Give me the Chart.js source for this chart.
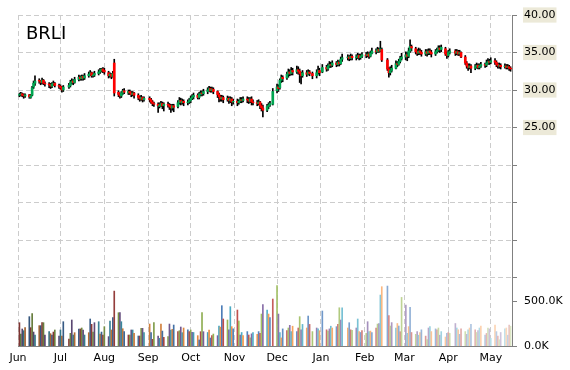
<!DOCTYPE html>
<html><head><meta charset="utf-8">
<script src="https://cdn.jsdelivr.net/npm/chart.js@4.4.1/dist/chart.umd.min.js"></script>
<style>html,body{margin:0;padding:0;background:#fff;}#wrap{width:570px;height:370px;}</style>
</head><body><div id="wrap"><canvas id="c" width="570" height="370"></canvas></div>
<script>
const TICKER = 'BRLI';
// trading calendar (categories)
const firstDay = '2014-06-01';
const startDate = '2014-06-02';
const endDate = '2015-05-15';
const holidays = ['2014-07-04','2014-09-01','2014-11-27','2014-12-25','2015-01-01','2015-01-19','2015-02-16','2015-04-03'];
const monthStarts = ['2014-06-01','2014-07-01','2014-08-01','2014-09-01','2014-10-01','2014-11-01','2014-12-01','2015-01-01','2015-02-01','2015-03-01','2015-04-01','2015-05-01'];
const monthLabels = ['Jun','Jul','Aug','Sep','Oct','Nov','Dec','Jan','Feb','Mar','Apr','May'];
const priceTicks = [40,35,30,25,20,15,10,5];
const priceLabelMin = 25;
const volumeTickK = [500,0];

const open = [
29.30,29.40,29.50,29.30,29.20,29.35,29.00,29.30,30.40,30.90,31.30,31.20,31.00,31.30,30.90,30.80,30.70,30.50,30.80,30.90,30.60,
30.50,30.30,30.00,30.40,30.60,31.00,31.20,31.00,31.40,31.70,31.50,31.80,31.60,31.90,32.10,32.30,31.90,32.00,32.20,32.40,32.60,32.80,
32.60,32.30,31.90,32.10,31.80,33.60,29.70,29.40,29.20,29.60,29.90,29.60,29.80,29.60,29.40,29.60,29.30,29.00,28.80,29.00,28.70,
28.90,28.70,28.40,28.20,28.10,27.80,28.00,28.20,27.90,28.10,28.00,27.90,27.60,27.90,27.80,28.30,28.60,28.30,28.50,28.30,28.40,
28.60,28.90,29.10,29.30,29.00,29.40,29.60,29.50,29.80,30.00,30.20,29.90,30.10,29.80,29.40,29.10,28.80,29.00,28.70,28.90,28.60,28.80,28.40,
28.50,28.30,28.50,28.70,28.60,28.80,28.70,28.50,28.80,28.40,28.30,28.20,28.40,27.90,27.60,27.30,27.80,28.00,28.10,
29.90,30.40,30.30,31.30,31.70,31.60,32.10,32.40,32.20,32.60,32.40,32.70,32.50,32.20,31.90,32.30,32.10,32.40,32.20,31.90,32.30,32.60,
32.40,33.00,32.80,33.20,33.40,33.30,33.60,33.40,33.70,33.50,34.10,34.30,34.40,34.20,34.50,34.30,34.40,34.60,34.30,34.50,
34.70,34.60,34.80,34.50,34.90,35.20,35.10,35.40,35.20,35.40,34.00,32.80,32.30,32.60,32.90,33.50,33.40,33.80,34.20,
34.40,34.70,34.50,35.20,35.80,35.50,35.10,34.90,35.20,35.00,34.80,35.10,34.90,35.20,35.00,34.80,35.10,35.30,35.60,35.40,35.50,34.80,
34.60,35.00,35.20,34.90,35.10,34.80,35.00,34.40,33.60,33.20,33.00,33.20,32.90,33.10,33.30,33.00,33.20,33.40,33.30,33.60,33.80,
33.70,33.90,33.70,33.40,33.20,33.30,33.10,33.20,33.00,33.10,32.90];
const high = [
29.60,29.70,29.60,29.50,29.50,29.40,29.40,30.50,31.20,31.90,31.50,31.30,31.60,31.40,31.10,31.00,30.90,31.00,31.20,31.00,30.80,
30.70,30.50,30.60,30.90,31.30,31.50,31.40,31.70,32.00,31.90,32.00,32.00,32.20,32.40,32.60,32.40,32.30,32.50,32.70,32.90,32.90,33.00,
32.90,32.50,32.30,32.20,32.50,34.10,29.90,29.60,29.80,30.10,30.20,30.00,30.00,29.80,29.80,29.70,29.50,29.20,29.30,29.10,29.10,
29.10,28.90,28.60,28.40,28.30,28.30,28.50,28.40,28.30,28.40,28.20,28.10,28.10,28.10,28.60,29.00,28.90,28.80,28.70,28.70,28.90,
29.20,29.40,29.60,29.50,29.70,29.90,29.90,30.10,30.30,30.50,30.40,30.40,30.30,29.90,29.60,29.30,29.30,29.20,29.20,29.10,29.10,29.00,28.80,
28.80,28.70,29.00,29.00,29.10,29.10,29.00,29.00,29.10,28.70,28.60,28.70,28.50,28.20,28.00,28.10,28.30,28.50,30.20,
30.80,30.70,31.50,32.00,31.90,32.40,32.80,32.70,33.00,32.90,33.20,33.10,32.80,32.40,32.60,32.60,32.70,32.60,32.40,32.70,33.20,32.90,
33.40,33.30,33.50,33.80,33.70,33.90,33.80,34.00,33.90,34.40,34.80,34.70,34.60,34.80,34.70,34.70,34.90,34.80,34.80,35.00,
35.00,35.10,35.00,35.20,35.60,35.50,35.70,35.60,36.50,35.60,34.20,33.00,33.10,33.30,33.90,33.80,34.10,34.50,34.90,
35.10,35.00,35.60,36.70,36.00,35.70,35.40,35.60,35.50,35.30,35.40,35.40,35.50,35.50,35.30,35.40,35.60,35.90,35.90,36.00,35.70,35.10,
35.30,35.50,35.40,35.40,35.30,35.30,35.10,34.60,33.80,33.50,33.50,33.40,33.40,33.60,33.50,33.50,33.70,33.60,34.00,34.20,34.10,
34.30,34.20,33.90,33.60,33.60,33.50,33.50,33.40,33.40,33.30,33.10];
const low = [
29.10,29.20,29.10,28.90,29.00,28.90,28.90,29.20,30.20,30.60,30.90,30.70,30.80,30.70,30.50,30.30,30.20,30.30,30.60,30.40,30.20,
30.10,29.70,29.80,30.20,30.40,30.80,30.70,30.90,31.20,31.30,31.30,31.30,31.40,31.70,31.90,31.70,31.70,31.80,32.00,32.20,32.40,32.30,
32.10,31.60,31.70,31.50,31.70,29.20,29.10,28.90,29.00,29.40,29.50,29.40,29.40,29.10,29.20,28.90,28.70,28.50,28.60,28.40,28.50,
28.40,28.20,27.90,27.80,27.00,27.60,27.80,27.50,27.20,27.70,27.40,27.00,27.30,27.10,27.60,28.10,28.00,28.10,27.90,28.00,28.20,
28.30,28.70,28.80,28.80,28.80,29.20,29.20,29.30,29.50,29.80,29.70,29.70,29.50,29.00,28.40,28.50,28.50,28.30,28.50,28.20,28.30,27.90,28.10,
27.90,28.10,28.30,28.30,28.40,28.30,28.20,28.30,28.00,28.00,27.90,28.00,27.50,27.20,26.40,27.10,27.50,27.80,28.00,
29.60,29.80,30.10,31.00,31.10,31.40,31.70,31.90,32.00,32.00,32.20,32.10,31.00,30.80,31.70,31.80,32.00,31.90,31.50,31.60,32.10,31.90,
32.30,32.50,32.60,33.00,33.00,33.10,33.10,33.20,33.20,33.40,33.80,34.00,33.90,34.00,34.00,34.00,34.20,34.00,34.10,34.30,
34.30,34.40,34.20,34.40,34.80,34.80,35.00,35.00,35.10,33.80,32.60,31.70,32.00,32.40,32.80,33.10,33.30,33.60,34.00,
34.00,33.90,34.30,35.00,35.20,34.80,34.60,34.70,34.70,34.50,34.60,34.50,34.70,34.70,34.40,34.60,34.90,35.10,35.00,35.10,34.60,34.20,
34.40,34.80,34.60,34.70,34.60,34.60,34.30,33.40,32.90,32.60,32.80,32.30,32.70,32.90,32.80,32.80,33.00,33.00,33.10,33.40,33.40,
33.50,33.40,33.10,32.90,32.90,32.80,32.90,32.80,32.80,32.60,32.50];
const close = [
29.40,29.50,29.30,29.20,29.35,29.10,29.25,30.30,30.90,31.20,31.20,31.00,31.30,30.90,30.80,30.70,30.50,30.80,30.90,30.60,30.50,
30.30,30.00,30.40,30.60,31.00,31.20,31.00,31.40,31.70,31.50,31.80,31.60,31.90,32.10,32.30,31.90,32.00,32.20,32.40,32.60,32.80,32.50,
32.40,31.90,32.10,31.80,32.20,29.60,29.40,29.20,29.60,29.90,29.70,29.80,29.60,29.40,29.60,29.30,29.00,28.80,29.00,28.70,28.90,
28.70,28.40,28.20,28.10,27.90,28.00,28.20,27.90,28.10,28.00,27.80,27.60,27.90,27.70,28.30,28.60,28.40,28.50,28.30,28.40,28.60,
28.90,29.10,29.30,29.00,29.40,29.60,29.50,29.80,30.00,30.20,29.90,30.10,29.80,29.40,29.10,28.80,29.00,28.70,28.90,28.60,28.80,28.40,28.50,
28.30,28.50,28.70,28.60,28.80,28.70,28.50,28.80,28.40,28.30,28.20,28.40,27.90,27.60,27.30,27.80,28.00,28.20,29.80,
30.40,30.20,31.30,31.70,31.50,32.10,32.40,32.20,32.60,32.40,32.70,32.50,32.20,31.90,32.30,32.10,32.40,32.20,31.90,32.30,32.60,32.30,
33.00,32.80,33.20,33.40,33.30,33.60,33.40,33.70,33.50,34.10,34.30,34.40,34.20,34.50,34.30,34.40,34.60,34.30,34.50,34.70,
34.60,34.80,34.50,34.90,35.20,35.10,35.40,35.20,35.50,34.00,32.80,32.30,32.60,32.90,33.50,33.40,33.80,34.20,34.40,
34.70,34.50,35.20,35.80,35.60,35.10,34.90,35.20,35.00,34.80,35.10,34.90,35.20,35.00,34.80,35.10,35.30,35.60,35.40,35.70,34.80,34.60,
35.00,35.20,34.90,35.10,34.80,35.00,34.40,33.60,33.20,33.00,33.20,32.90,33.10,33.30,33.00,33.20,33.40,33.30,33.60,33.80,33.70,
33.90,33.70,33.40,33.20,33.30,33.10,33.20,33.00,33.10,32.90,32.80];
// volume in thousands
const volumeK = [
259,133,189,170,204,326,204,359,155,122,226,226,259,259,122,159,137,122,155,178,111,
178,111,270,78,141,289,122,148,189,189,200,178,122,148,300,241,155,259,270,133,155,122,
215,104,278,178,315,610,370,370,270,192,160,122,122,178,178,140,111,111,196,196,150,
244,148,74,259,111,85,244,166,96,104,244,178,185,233,159,170,211,148,200,180,160,
178,152,150,115,67,159,370,159,150,178,89,115,133,115,222,210,448,300,289,180,437,215,190,
400,278,122,150,115,160,122,90,135,150,130,160,140,355,459,400,355,315,522,
670,355,150,90,190,170,200,230,160,220,160,200,326,180,240,200,333,240,160,200,190,170,
389,180,165,190,220,200,215,240,425,289,425,200,259,180,175,200,300,160,150,170,
140,270,159,166,150,200,244,250,566,659,666,337,222,260,200,250,222,159,540,
455,141,215,429,150,130,160,120,150,180,110,70,200,215,160,190,180,200,120,160,100,140,
150,140,250,200,180,130,190,160,130,180,200,240,180,150,170,200,220,120,140,200,190,
85,233,160,110,70,150,190,200,120,233,220];

// ---- build calendar ----
const DAY = 86400000;
const toUTC = s => { const [y,m,d] = s.split('-').map(Number); return Date.UTC(y, m-1, d); };
const base = toUTC(firstDay);
const hol = new Set(holidays.map(toUTC));
const tradingDays = [];
for (let t = toUTC(startDate); t <= toUTC(endDate); t += DAY) {
  const wd = new Date(t).getUTCDay();
  if (wd === 0 || wd === 6 || hol.has(t)) continue;
  tradingDays.push(Math.round((t - base) / DAY));
}
const monthDays = monthStarts.map(s => Math.round((toUTC(s) - base) / DAY));
const n = Math.min(tradingDays.length, open.length, high.length, low.length, close.length, volumeK.length);
const XMAX = Math.round((toUTC(endDate) - base) / DAY) + 1;

// axis geometry: price and volume share the right axis
const PMAX = 40, PMIN = -4.1333;
const VMAXK = 3677.8;
const P500 = PMIN + (volumeTickK[0] / VMAXK) * (PMAX - PMIN);
const isVolTick = v => Math.abs(v - P500) < 1e-6 || Math.abs(v - PMIN) < 1e-6;

// volume colours: office palette cycling, dark -> light
const palette = ['#C0504D','#9BBB59','#8064A2','#4BACC6','#F79646','#4F81BD'];
function shade(hex, s) {
  const r = parseInt(hex.slice(1,3),16), g = parseInt(hex.slice(3,5),16), b = parseInt(hex.slice(5,7),16);
  const f = c => s < 0 ? Math.round(c * (1 + s)) : Math.round(c + (255 - c) * s);
  return `rgb(${f(r)},${f(g)},${f(b)})`;
}
const volColors = [];
for (let i = 0; i < n; i++) {
  const t = i / (n - 1);
  volColors.push(shade(palette[i % 6], -0.35 + Math.pow(t, 1.3)));
}

const wickData = [], bodyData = [], volData = [], bodyColors = [];
for (let i = 0; i < n; i++) {
  wickData.push({x: tradingDays[i], y: [low[i], high[i]]});
  bodyData.push({x: tradingDays[i], y: [open[i], close[i]]});
  volData.push({x: tradingDays[i], y: volumeK[i]});
  bodyColors.push(close[i] >= open[i] ? '#00A651' : '#FF0000');
}

const FONT = {family: 'DejaVu Sans', size: 11};
const titlePlugin = {
  id: 'tickerTitle',
  afterDatasetsDraw(chart) {
    const {ctx, chartArea} = chart;
    ctx.save();
    ctx.font = '18px "DejaVu Sans"';
    ctx.fillStyle = '#000';
    ctx.textBaseline = 'alphabetic';
    ctx.fillText(TICKER, chartArea.left + 8, chartArea.top + 24);
    ctx.restore();
  }
};

new Chart(document.getElementById('c'), {
  type: 'bar',
  data: {
    datasets: [
      {label: 'body', data: bodyData, yAxisID: 'y', backgroundColor: bodyColors, barThickness: 2, order: 1, grouped: false},
      {label: 'wick', data: wickData, yAxisID: 'y', backgroundColor: '#000', barThickness: 1, order: 2, grouped: false},
      {label: 'volume', data: volData, yAxisID: 'yv', backgroundColor: volColors, barThickness: 1, order: 3, grouped: false}
    ]
  },
  options: {
    responsive: false,
    animation: false,
    devicePixelRatio: 1,
    layout: {padding: {left: 18, top: 15, right: 0, bottom: 0}},
    plugins: {legend: {display: false}, tooltip: {enabled: false}},
    datasets: {bar: {borderWidth: 0, grouped: false}},
    scales: {
      x: {
        type: 'linear', min: 0, max: XMAX, offset: false,
        afterBuildTicks(scale) { scale.ticks = monthDays.map(v => ({value: v})); },
        afterFit(scale) { scale.height = 24; },
        grid: {offset: false, color: '#cccccc', lineWidth: 1, drawTicks: false},
        border: {display: true, color: '#808080', dash: [5, 3]},
        ticks: {callback: (v, i) => monthLabels[i], font: FONT, color: '#000', padding: 6, maxRotation: 0, autoSkip: false}
      },
      y: {
        type: 'linear', position: 'right', min: PMIN, max: PMAX,
        afterBuildTicks(scale) {
          scale.ticks = priceTicks.map(v => ({value: v})).concat([{value: P500}, {value: PMIN}]);
        },
        afterFit(scale) { scale.width = 58; },
        grid: {
          color: ctx => (ctx.tick && isVolTick(ctx.tick.value)) ? 'rgba(0,0,0,0)' : '#cccccc',
          tickColor: '#808080', tickLength: 5, tickBorderDash: [], lineWidth: 1, drawTicks: true
        },
        border: {display: true, color: '#808080', dash: [5, 3]},
        ticks: {
          font: FONT, color: '#000', padding: 7, autoSkip: false,
          callback: v => {
            if (Math.abs(v - P500) < 1e-6) return volumeTickK[0].toFixed(1) + 'K';
            if (Math.abs(v - PMIN) < 1e-6) return volumeTickK[1].toFixed(1) + 'K';
            return v >= priceLabelMin ? v.toFixed(2) : '';
          },
          showLabelBackdrop: ctx => !!(ctx.tick && ctx.tick.value >= priceLabelMin - 0.01),
          backdropColor: '#ECE9D8',
          backdropPadding: {x: 1, y: 1}
        }
      },
      yv: {type: 'linear', display: false, min: 0, max: VMAXK}
    }
  },
  plugins: [titlePlugin]
});
</script></body></html>
